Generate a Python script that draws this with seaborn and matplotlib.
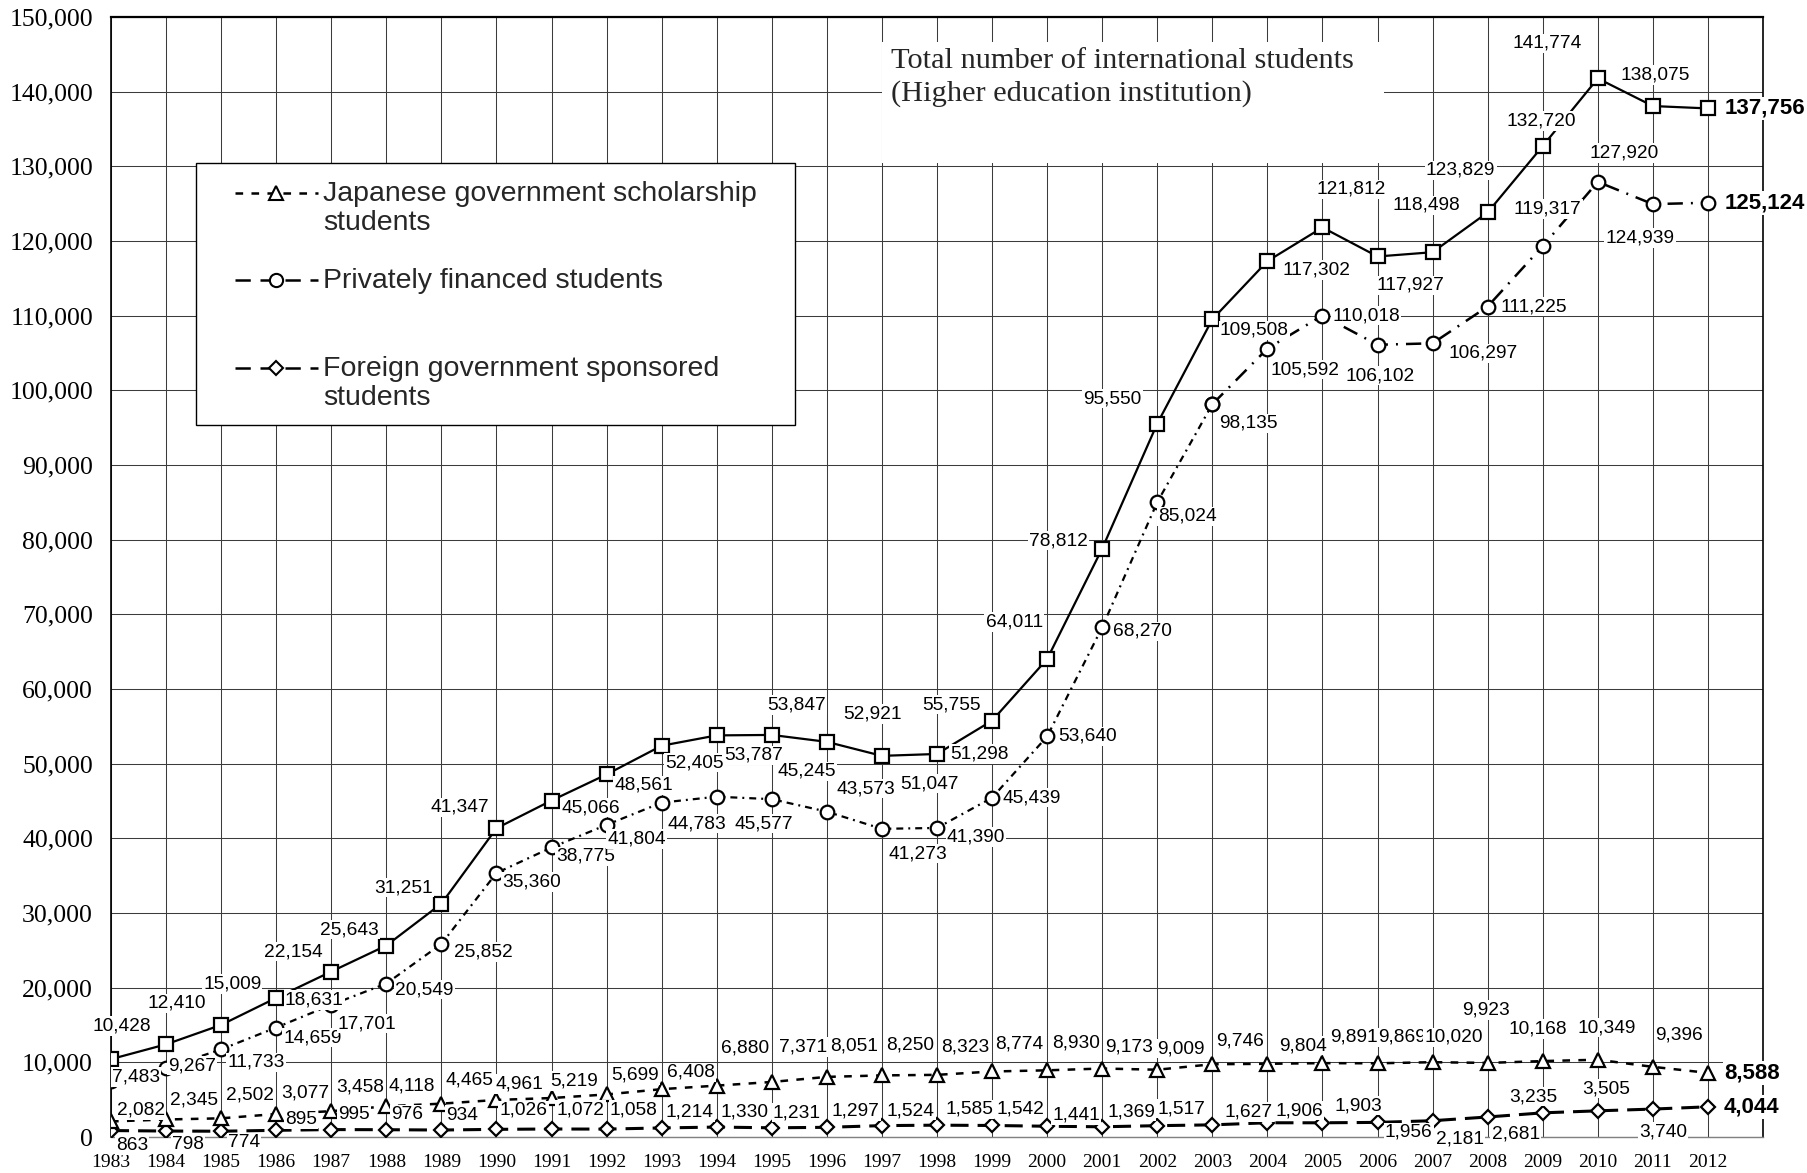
import numpy as np
import pandas as pd
import matplotlib
matplotlib.use("Agg")
import matplotlib.pyplot as plt
import seaborn as sns
from matplotlib import font_manager as fm
from matplotlib.legend_handler import HandlerLine2D
from matplotlib.lines import Line2D
from matplotlib.patches import Rectangle
from matplotlib.transforms import Affine2D

# ---------------- data ----------------
years = list(range(1983, 2013))
total = [10428, 12410, 15009, 18631, 22154, 25643, 31251, 41347, 45066, 48561,
         52405, 53787, 53847, 52921, 51047, 51298, 55755, 64011, 78812, 95550,
         109508, 117302, 121812, 117927, 118498, 123829, 132720, 141774, 138075, 137756]
private = [7483, 9267, 11733, 14659, 17701, 20549, 25852, 35360, 38775, 41804,
           44783, 45577, 45245, 43573, 41273, 41390, 45439, 53640, 68270, 85024,
           98135, 105592, 110018, 106102, 106297, 111225, 119317, 127920, 124939, 125124]
japanese_gov = [2082, 2345, 2502, 3077, 3458, 4118, 4465, 4961, 5219, 5699,
                6408, 6880, 7371, 8051, 8250, 8323, 8774, 8930, 9173, 9009,
                9746, 9804, 9891, 9869, 10020, 9923, 10168, 10349, 9396, 8588]
foreign_gov = [863, 798, 774, 895, 995, 976, 934, 1026, 1072, 1058,
               1214, 1330, 1231, 1297, 1524, 1585, 1542, 1441, 1369, 1517,
               1627, 1906, 1903, 1956, 2181, 2681, 3235, 3505, 3740, 4044]
y_ticks = list(range(0, 150001, 10000))
legend_labels = ["Japanese government scholarship\nstudents",
                 "Privately financed students\n",
                 "Foreign government sponsored\nstudents"]
title_text = "Total number of international students\n(Higher education institution)"

# ------------- label offsets (pixels, dx right / dy up) -------------
off_total = [(11, 33), (11, 41), (11, 41), (38, -2), (-38, 20), (-37, 16), (-38, 16), (-37, 21),
             (39, -7), (37, -11), (33, -17), (37, -20), (25, 30), (46, 28), (48, -28), (42, 0),
             (-41, 16), (-33, 37), (-44, 8), (-45, 25), (42, -11), (49, -9), (29, 38), (33, -29),
             (-6, 47), (-27, 42), (-1, 25), (-51, 35), (2, 31), (17, 0)]
off_private = [(25, 4), (26, 2), (35, -13), (36, -10), (36, -19), (38, -6), (42, -8), (35, -9),
               (34, -9), (30, -14), (35, -21), (47, -27), (35, 28), (39, 23), (36, -25), (39, -9),
               (40, 0), (40, 0), (40, -4), (30, -14), (36, -19), (38, -21), (44, 0), (3, -31),
               (51, -10), (46, 0), (5, 37), (26, 29), (-13, -34), (17, 0)]
off_japanese = [(30, 11), (28, 19), (29, 23), (29, 21), (29, 24), (25, 20), (28, 24), (23, 16),
                (23, 17), (28, 19), (29, 17), (28, 38), (31, 35), (27, 31), (28, 30), (28, 28),
                (27, 27), (29, 27), (27, 22), (24, 21), (28, 23), (36, 18), (31, 26), (24, 26),
                (21, 25), (-2, 53), (-5, 32), (9, 32), (26, 32), (16, 0)]
off_foreign = [(21, -15), (22, -13), (23, -11), (25, 11), (23, 15), (21, 15), (21, 15), (27, 19),
               (29, 19), (27, 19), (28, 16), (28, 15), (25, 15), (29, 16), (29, 15), (32, 16),
               (28, 16), (29, 11), (29, 15), (24, 17), (36, 13), (32, 12), (36, 17), (31, -10),
               (27, -18), (28, -17), (-9, 16), (8, 22), (10, -23), (16, 0)]

# ---------------- style ----------------
sns.set_theme(style="white")
available = {f.name for f in fm.fontManager.ttflist}


def pick(*names):
    for n in names:
        if n in available:
            return n
    return "DejaVu Sans"


SERIF = pick("Liberation Serif", "DejaVu Serif")
SANS = pick("Liberation Sans", "Arimo", "DejaVu Sans")
NARROW = pick("Liberation Sans Narrow", "Liberation Sans", "DejaVu Sans")
plt.rcParams["font.family"] = [SANS, "DejaVu Sans"]
plt.rcParams["lines.scale_dashes"] = False

DPI = 100
fig = plt.figure(figsize=(18.07, 11.73), dpi=DPI)
ax = fig.add_axes([111 / 1807, 36 / 1173, 1652 / 1807, 1120 / 1173])

df = pd.DataFrame({"year": years, "total": total, "private": private,
                   "japanese": japanese_gov, "foreign": foreign_gov})

DASH_J = (0, (5.5, 6.0))
DASH_P1 = (0, (5.0, 3.6, 1.4, 3.6))
DASH_P2 = (0, (11.0, 5.8, 1.4, 5.8))
DASH_F = (0, (13.0, 6.5))

common = dict(color="black", markerfacecolor="white", markeredgecolor="black",
              markeredgewidth=1.6, errorbar=None, zorder=3)

sns.lineplot(data=df, x="year", y="foreign", ax=ax, linewidth=2.2, linestyle=DASH_F,
             marker="D", markersize=7.2, **common)
sns.lineplot(data=df, x="year", y="japanese", ax=ax, linewidth=1.8, linestyle=DASH_J,
             marker="^", markersize=10.5, **common)
sns.lineplot(data=df.iloc[:21], x="year", y="private", ax=ax, linewidth=1.6, linestyle=DASH_P1,
             marker="o", markersize=9.8, **common)
sns.lineplot(data=df.iloc[20:], x="year", y="private", ax=ax, linewidth=1.8, linestyle=DASH_P2,
             marker="o", markersize=9.8, **common)
sns.lineplot(data=df, x="year", y="total", ax=ax, linewidth=1.6, linestyle="-",
             marker="s", markersize=10.5, **common)

# ---------------- data labels ----------------
bbox_lbl = dict(boxstyle="square,pad=0.06", fc="white", ec="none")


def label_series(values, offsets):
    n = len(values)
    for i, (yr, v, (dx, dy)) in enumerate(zip(years, values, offsets)):
        last = i == n - 1
        ax.annotate(f"{v:,}", xy=(yr, v), xytext=(dx, dy), textcoords="offset pixels",
                    ha="left" if last else "center", va="center",
                    fontsize=16 if last else 13.8,
                    fontweight="bold" if last else "normal",
                    family=[NARROW, "DejaVu Sans"], color="black",
                    bbox=bbox_lbl, zorder=6, annotation_clip=False)


label_series(total, off_total)
label_series(private, off_private)
label_series(japanese_gov, off_japanese)
label_series(foreign_gov, off_foreign)

# ---------------- axes ----------------
ax.set_xlim(1983, 2013)
ax.set_ylim(0, 150000)
ax.set_xticks(years)
ax.set_xticklabels([str(y) for y in years], fontfamily=SERIF, fontsize=14)
ax.set_yticks(y_ticks)
ax.set_yticklabels([f"{t:,}" for t in y_ticks], fontfamily=SERIF, fontsize=18.5)
ax.tick_params(axis="both", length=0, colors="black")
ax.tick_params(axis="x", pad=12)
ax.tick_params(axis="y", pad=13)
ax.set_xlabel("")
ax.set_ylabel("")
ax.grid(True, color="#3c3c3c", linewidth=0.75)
ax.set_axisbelow(True)
for side, lw, col in [("top", 1.6, "black"), ("left", 1.2, "black"),
                      ("right", 1.2, "black"), ("bottom", 1.0, "#808080")]:
    ax.spines[side].set_visible(True)
    ax.spines[side].set_linewidth(lw)
    ax.spines[side].set_color(col)

# ---------------- title box ----------------
ax.add_patch(Rectangle((0.4667, 0.8696), 0.3039, 0.1081, transform=ax.transAxes,
                       fc="white", ec="none", zorder=1))
ax.text(0.4722, 0.9723, title_text, transform=ax.transAxes, ha="left", va="top",
        fontsize=21.9, family=[SERIF, "DejaVu Serif"], linespacing=1.27, zorder=4)

# ---------------- legend ----------------
ax.add_patch(Rectangle((0.0515, 0.6357), 0.3625, 0.2339, transform=ax.transAxes,
                       fc="white", ec="black", lw=1.0, zorder=4))


class FirstLineHandler(HandlerLine2D):
    def __init__(self, shift, **kw):
        super().__init__(**kw)
        self.shift = shift

    def create_artists(self, legend, orig_handle, xdescent, ydescent, width, height,
                       fontsize, trans):
        arts = super().create_artists(legend, orig_handle, xdescent, ydescent, width,
                                      height, fontsize, trans)
        for a in arts:
            a.set_transform(Affine2D().translate(0, self.shift) + trans)
        return arts


hkw = dict(color="black", markerfacecolor="white", markeredgecolor="black", markeredgewidth=1.5)
h_j = Line2D([], [], linewidth=1.8, linestyle=DASH_J, marker="^", markersize=10, **hkw)
h_p = Line2D([], [], linewidth=1.8, linestyle=(0, (11.0, 7.0)), marker="o", markersize=9.5, **hkw)
h_f = Line2D([], [], linewidth=1.8, linestyle=(0, (11.0, 7.0)), marker="D", markersize=7, **hkw)
SHIFT = 11.2
leg = ax.legend(handles=[h_j, h_p, h_f], labels=legend_labels, loc="upper left",
                bbox_to_anchor=(0.0751, 0.8536), frameon=False, borderpad=0,
                borderaxespad=0, handlelength=2.9, handletextpad=0.2, labelspacing=1.13,
                numpoints=1, prop={"family": SANS, "size": 20.5},
                handler_map={h_j: FirstLineHandler(SHIFT), h_p: FirstLineHandler(SHIFT),
                             h_f: FirstLineHandler(SHIFT)})
leg.set_zorder(5)
for t in leg.get_texts():
    t.set_linespacing(1.16)

fig.savefig("out.png", dpi=DPI)
